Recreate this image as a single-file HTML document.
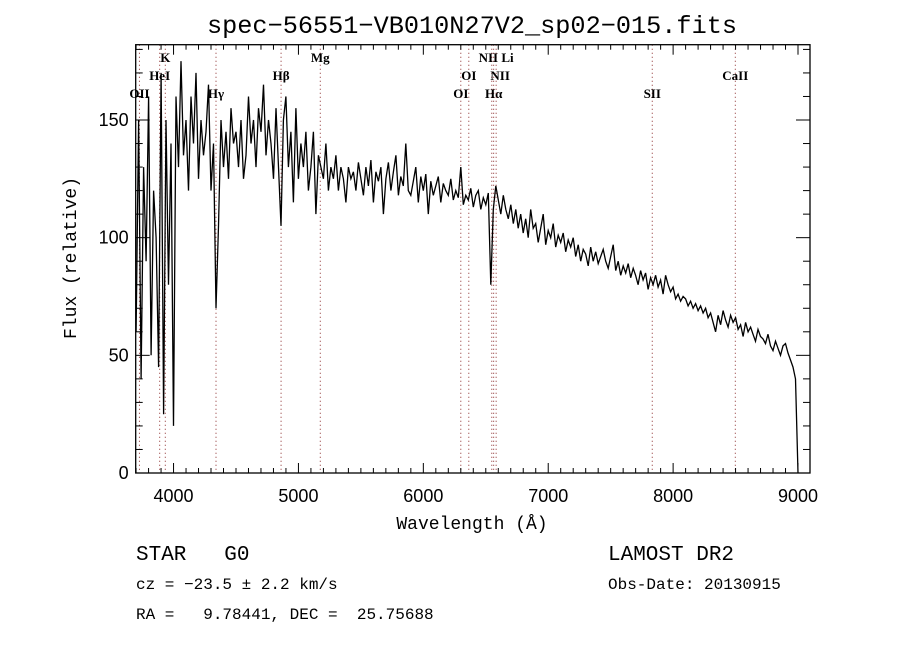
<!DOCTYPE html>
<html><head><meta charset="utf-8"><style>
body{margin:0;background:#fff}
svg{display:block;font-family:"Liberation Serif",serif}
</style></head><body>
<svg id="chart" width="900" height="650" viewBox="0 0 900 650" xmlns="http://www.w3.org/2000/svg">
<rect width="900" height="650" fill="#fff"/>
<text x="472" y="33" font-size="25" text-anchor="middle" font-family="Liberation Mono, monospace" textLength="530" lengthAdjust="spacingAndGlyphs">spec−56551−VB010N27V2_sp02−015.fits</text>
<g id="lines"></g>
<g id="axes"></g>
<path id="spec" fill="none" stroke="#000" stroke-width="1.3"/>
<text x="472" y="529" font-size="18" text-anchor="middle" font-family="Liberation Mono, monospace">Wavelength (Å)</text>
<text transform="translate(76,258) rotate(-90)" font-size="18" text-anchor="middle" font-family="Liberation Mono, monospace">Flux (relative)</text>
<text x="136" y="560" font-size="21" font-family="Liberation Mono, monospace" xml:space="preserve">STAR   G0</text>
<text x="136" y="589" font-size="16" font-family="Liberation Mono, monospace">cz = −23.5 ± 2.2 km/s</text>
<text x="136" y="619" font-size="16" font-family="Liberation Mono, monospace" xml:space="preserve">RA =   9.78441, DEC =  25.75688</text>
<text x="608" y="560" font-size="21" font-family="Liberation Mono, monospace">LAMOST DR2</text>
<text x="608" y="589" font-size="16" font-family="Liberation Mono, monospace">Obs-Date: 20130915</text>
</svg>
<script>
const wlStart = 3700;
const wlStep = 20;
const flux = [
60,150,40,130,90,160,50,120,100,45,
170,25,150,80,140,20,160,130,175,135,
150,120,160,140,170,125,150,135,145,165,
120,140,70,105,150,130,145,125,155,140,
145,130,150,125,135,160,140,150,130,155,
145,165,135,150,140,125,155,130,105,150,
160,130,145,115,155,125,140,130,145,120,
130,145,110,135,130,125,140,120,130,125,
135,120,130,125,115,130,125,128,120,132,
125,118,130,122,133,115,128,124,130,110,
125,132,120,128,135,118,126,122,140,120,
118,124,130,115,126,120,127,110,124,118,
122,126,115,123,120,118,125,116,120,117,
130,114,118,116,121,113,118,120,112,117,
114,119,80,112,122,116,110,118,112,108,
114,106,112,104,110,102,108,100,112,104,
106,98,104,110,97,103,100,106,96,101,
98,102,94,99,96,100,92,97,90,95,
93,88,96,90,94,89,92,95,90,87,
92,97,86,90,84,88,85,89,83,87,
84,80,86,82,85,78,83,80,84,79,
82,76,84,80,77,79,74,76,73,75,
74,71,73,70,72,69,71,68,70,66,
68,64,60,67,63,69,65,62,67,64,
66,61,63,58,64,60,62,59,56,61,
58,57,55,59,54,52,56,53,50,54,
55,51,48,45,40,0];
const xTicks = [4000,5000,6000,7000,8000,9000];
const yTicks = [0,50,100,150];
const lineNames = ["OII","HeI","K","Hγ","Hβ","Mg","OI","OI","NII","Hα","NII Li","SII","CaII"];
const lineWl = [3727,3889,3934,4340,4861,5175,6300,6364,6548,6563,6583,7833,8498];
const lineRow = [2,1,0,2,1,0,2,1,-1,2,0,2,1];
const lineLabelNII = "NII";

const L=135.7,R=810,T=44.7,B=473,X0=3697,X1=9096,Ymax=182;
const xs=w=>L+(w-X0)/(X1-X0)*(R-L);
const ys=v=>B-v/Ymax*(B-T);
const NS="http://www.w3.org/2000/svg";
function mk(tag,attrs,parent){const e=document.createElementNS(NS,tag);for(const k in attrs)e.setAttribute(k,attrs[k]);parent.appendChild(e);return e;}

let d="";
flux.forEach((v,i)=>{const x=xs(wlStart+i*wlStep),y=ys(v);d+=(i?"L":"M")+x.toFixed(1)+" "+y.toFixed(1);});
document.getElementById('spec').setAttribute('d',d);

const lg=document.getElementById('lines');
const rowY=[62,80,98];
lineWl.forEach((w,i)=>{
  const x=xs(w);
  const ln=mk('line',{x1:x,x2:x,y1:T,y2:B,stroke:'#8b2a2a','stroke-width':1,'stroke-dasharray':'1,3'},lg);
  
  
  if(lineRow[i]>=0){
    const t=mk('text',{x:x,y:rowY[lineRow[i]],'font-size':13,'font-weight':'bold','text-anchor':'middle'},lg);
    t.textContent=lineNames[i];
    
    
  }
});
{const t=mk('text',{x:xs(6583)+4,y:rowY[1],'font-size':13,'font-weight':'bold','text-anchor':'middle'},lg);t.textContent=lineLabelNII;

}

const ag=document.getElementById('axes');
const fr=mk('rect',{x:L,y:T,width:R-L,height:B-T,fill:'none',stroke:'#000','stroke-width':1.3},ag);


for(let w=3700;w<=9000;w+=100){
  const x=xs(w),maj=w%1000===0,len=maj?10:5;
  mk('line',{x1:x,x2:x,y1:B,y2:B-len,stroke:'#000'},ag);
  mk('line',{x1:x,x2:x,y1:T,y2:T+len,stroke:'#000'},ag);
}
xTicks.forEach(w=>{const t=mk('text',{x:xs(w),y:B+29,'font-size':18,'text-anchor':'middle','font-family':'Liberation Sans, sans-serif'},ag);t.textContent=w;

});
for(let v=0;v<=180;v+=10){
  const y=ys(v),maj=v%50===0,len=maj?14:7;
  mk('line',{x1:L,x2:L+len,y1:y,y2:y,stroke:'#000'},ag);
  mk('line',{x1:R,x2:R-len,y1:y,y2:y,stroke:'#000'},ag);
}
yTicks.forEach(v=>{const t=mk('text',{x:L-7,y:ys(v)+6,'font-size':18,'text-anchor':'end','font-family':'Liberation Sans, sans-serif'},ag);t.textContent=v;

});
</script>
</body></html>
